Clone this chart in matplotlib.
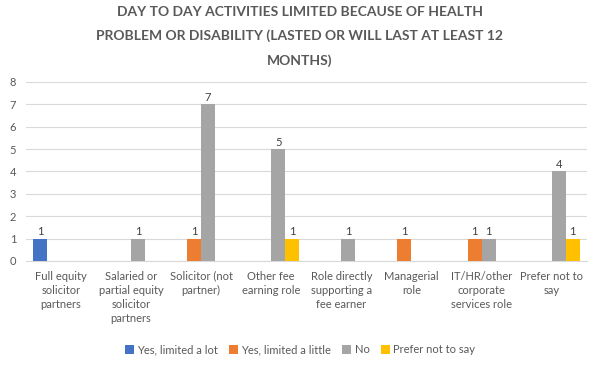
"""
Day to day activities limited because of health problem or disability
grouped bar chart, Excel-like style
"""

import numpy as np
import matplotlib.pyplot as plt

# ============================================================
# data
# ============================================================

categories = [
    'Full equity\nsolicitor\npartners',
    'Salaried or\npartial equity\nsolicitor\npartners',
    'Solicitor (not\npartner)',
    'Other fee\nearning role',
    'Role directly\nsupporting a\nfee earner',
    'Managerial\nrole',
    'IT/HR/other\ncorporate\nservices role',
    'Prefer not to\nsay',
]
series_names = ['Yes, limited a lot', 'Yes, limited a little', 'No', 'Prefer not to say']

# None = no bar / no label
limited_lot    = [1, None, None, None, None, None, None, None]
limited_little = [None, None, 1, None, None, 1, 1, None]
no_limit       = [None, 1, 7, 5, 1, None, 1, 4]
prefer_not     = [None, None, None, 1, None, None, None, 1]

series_values = [limited_lot, limited_little, no_limit, prefer_not]
colors = ['#4472C4', '#ED7D31', '#A5A5A5', '#FFC000']

title = ('DAY TO DAY ACTIVITIES LIMITED BECAUSE OF HEALTH\n'
         'PROBLEM OR DISABILITY (LASTED OR WILL LAST AT LEAST 12\n'
         'MONTHS)')

# ============================================================
# plot
# ============================================================

plt.rcParams['font.family'] = ['Lato', 'DejaVu Sans']
txt_col = '#595959'

fig = plt.figure(figsize=(6, 3.67), dpi=100)
ax = fig.add_axes([0.043, 0.289, 0.935, 0.488])

x = np.arange(len(categories))
w = 0.2
for i, (name, vals, c) in enumerate(zip(series_names, series_values, colors)):
    h = [v if v is not None else 0 for v in vals]
    bars = ax.bar(x + (i - 1.5) * w, h, width=w, color=c, label=name, zorder=3)
    labels = [str(v) if v is not None else '' for v in vals]
    ax.bar_label(bars, labels=labels, padding=1, fontsize=8, color='#404040')

ax.set_xlim(-0.5, len(categories) - 0.5)
ax.set_ylim(0, 8)
ax.set_yticks(range(0, 9))
ax.set_xticks(x)
ax.set_xticklabels(categories, fontsize=8, color=txt_col, linespacing=1.35)
ax.tick_params(axis='y', labelsize=8, labelcolor=txt_col, length=0, pad=7)
ax.tick_params(axis='x', length=0, pad=7)
ax.grid(axis='y', color='#D9D9D9', linewidth=0.8, zorder=0)
for s in ['top', 'right', 'left']:
    ax.spines[s].set_visible(False)
ax.spines['bottom'].set_color('#D9D9D9')

fig.text(0.5, 0.985, title, ha='center', va='top', fontsize=10, fontweight='bold',
         color=txt_col, linespacing=2.15)

fig.legend(loc='center', bbox_to_anchor=(0.5, 0.047), ncol=4, frameon=False,
           fontsize=8, handlelength=0.8, handleheight=0.8, handletextpad=0.3,
           columnspacing=1.0, labelcolor=txt_col)

fig.savefig('out.png', dpi=100)
